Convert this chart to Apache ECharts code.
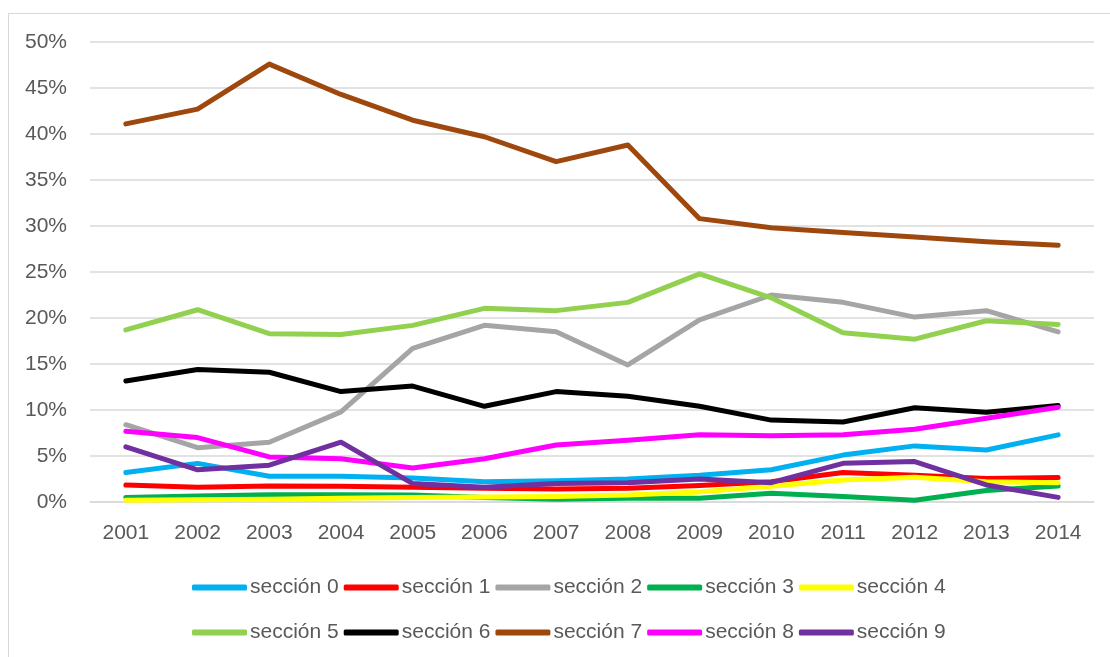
<!DOCTYPE html>
<html>
<head>
<meta charset="utf-8">
<script src="https://cdn.jsdelivr.net/npm/echarts@6/dist/echarts.min.js"></script>
<style>
html,body{margin:0;padding:0;background:#fff;overflow:hidden;}
#frame{position:absolute;left:8px;top:13px;width:1300px;height:800px;border:1.5px solid #D9D9D9;box-sizing:border-box;}
#chart{position:absolute;left:0;top:0;width:1110px;height:657px;}
</style>
</head>
<body>
<div id="frame"></div>
<div id="chart"></div>
<script>
const years = ['2001','2002','2003','2004','2005','2006','2007','2008','2009','2010','2011','2012','2013','2014'];
const seriesNames = ['sección 0','sección 1','sección 2','sección 3','sección 4','sección 5','sección 6','sección 7','sección 8','sección 9'];
const colors = ['#00B0F0','#FF0000','#A5A5A5','#00B050','#FFFF00','#92D050','#000000','#9E480E','#FF00FF','#7030A0'];
const s0 = [3.2, 4.2, 2.8, 2.8, 2.6, 2.2, 2.3, 2.5, 2.9, 3.5, 5.1, 6.1, 5.65, 7.3];
const s1 = [1.85, 1.6, 1.75, 1.7, 1.6, 1.5, 1.4, 1.5, 1.8, 2.2, 3.2, 2.9, 2.55, 2.65];
const s2 = [8.4, 5.9, 6.5, 9.8, 16.7, 19.2, 18.5, 14.9, 19.8, 22.5, 21.7, 20.1, 20.8, 18.5];
const s3 = [0.5, 0.65, 0.8, 0.8, 0.75, 0.5, 0.3, 0.4, 0.4, 0.95, 0.6, 0.2, 1.25, 1.75];
const s4 = [0.2, 0.25, 0.3, 0.4, 0.5, 0.55, 0.6, 0.75, 1.1, 1.7, 2.4, 2.7, 2.2, 2.1];
const s5 = [18.7, 20.9, 18.3, 18.2, 19.2, 21.05, 20.8, 21.7, 24.8, 22.2, 18.4, 17.7, 19.7, 19.3];
const s6 = [13.15, 14.4, 14.1, 12.0, 12.6, 10.4, 12.0, 11.5, 10.4, 8.9, 8.7, 10.25, 9.75, 10.5];
const s7 = [41.1, 42.7, 47.6, 44.3, 41.5, 39.7, 37.0, 38.8, 30.8, 29.8, 29.3, 28.8, 28.3, 27.9];
const s8 = [7.7, 7.0, 4.9, 4.7, 3.7, 4.7, 6.2, 6.7, 7.3, 7.2, 7.3, 7.9, 9.1, 10.3];
const s9 = [6.0, 3.5, 4.0, 6.5, 2.0, 1.6, 2.0, 2.1, 2.5, 2.1, 4.2, 4.4, 1.85, 0.5];
const allData = [s0, s1, s2, s3, s4, s5, s6, s7, s8, s9];
const yTicks = {min: 0, max: 50, interval: 5};

const FONT = "'Liberation Sans', Arial, sans-serif";
const chart = echarts.init(document.getElementById('chart'), null, {renderer: 'canvas'});
const legendBase = {
  orient: 'horizontal',
  left: 187,
  icon: 'roundRect',
  itemWidth: 55,
  itemHeight: 6,
  itemGap: 5,
  textStyle: {fontFamily: FONT, fontSize: 21, color: '#595959', padding: [0, 0, 0, -2]},
  inactiveColor: '#ccc'
};
chart.setOption({
  backgroundColor: 'transparent',
  animation: false,
  color: colors,
  grid: {left: 90, right: 16, top: 42, bottom: 155, containLabel: false},
  legend: [
    Object.assign({}, legendBase, {top: 572, data: seriesNames.slice(0, 5)}),
    Object.assign({}, legendBase, {top: 617, data: seriesNames.slice(5, 10)})
  ],
  xAxis: {
    type: 'category',
    data: years,
    boundaryGap: true,
    axisLine: {show: true, lineStyle: {color: '#D9D9D9', width: 1.5}},
    axisTick: {show: false},
    axisLabel: {fontFamily: FONT, fontSize: 21, color: '#595959', margin: 21}
  },
  yAxis: {
    type: 'value',
    min: yTicks.min,
    max: yTicks.max,
    interval: yTicks.interval,
    axisLine: {show: false},
    axisTick: {show: false},
    splitLine: {lineStyle: {color: '#D9D9D9', width: 1.5}},
    axisLabel: {fontFamily: FONT, fontSize: 21, color: '#595959', margin: 23, formatter: '{value}%'}
  },
  series: seriesNames.map((n, i) => ({
    name: n,
    type: 'line',
    data: allData[i],
    symbol: 'none',
    smooth: false,
    lineStyle: {width: 5, color: colors[i], cap: 'round', join: 'round'},
    itemStyle: {color: colors[i]}
  }))
});
</script>
</body>
</html>
